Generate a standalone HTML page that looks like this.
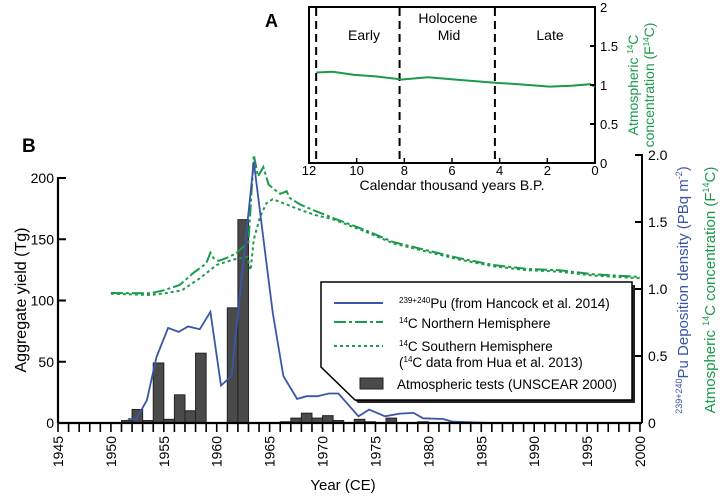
<!DOCTYPE html>
<html><head><meta charset="utf-8"><style>
html,body{margin:0;padding:0;background:#fff}
svg{display:block;font-family:"Liberation Sans",Arial,sans-serif}
</style></head><body>
<svg id="chart" width="727" height="498" viewBox="0 0 727 498">
<g id="inset"></g>
<g id="main"></g>
</svg>
<script>
// ---- Panel B data ----
const barYears = [1951,1952,1953,1954,1955,1956,1957,1958,1961,1962,1966,1967,1968,1969,1970,1971,1973,1974,1976,1979];
const barYields = [2,11,2,49,3,23,10,57,94,166,1,4,8,4,6,2,3,1,4,1];
const puYears = [1951.6,1952.4,1953.4,1954.3,1955.4,1956.4,1957.3,1958.4,1959.4,1960.4,1961.4,1963.5,1964.7,1965.3,1966.3,1967.6,1968.5,1969.5,1970.6,1971.5,1973.4,1974.4,1975.9,1977.3,1978.6,1979.5,1981.4,1982.3,1986];
const puValues = [0.03,0.03,0.17,0.49,0.71,0.68,0.72,0.70,0.83,0.28,0.35,1.95,1.19,0.82,0.35,0.18,0.20,0.20,0.22,0.22,0.05,0.10,0.05,0.07,0.075,0.035,0.03,0.01,0];
const nhYears = [1950,1953.7,1955,1956.5,1957.8,1959,1959.4,1959.7,1960.2,1961.2,1961.9,1963,1963.5,1963.9,1964.4,1964.9,1965.5,1966,1966.6,1966.9,1967.9,1969.4,1971,1974,1976.7,1979.8,1982.9,1986.1,1989.3,1992.4,1995.6,2000];
const nhValues = [0.97,0.968,0.99,1.03,1.12,1.19,1.27,1.23,1.21,1.24,1.27,1.35,2.0,1.84,1.91,1.78,1.74,1.71,1.73,1.68,1.63,1.58,1.53,1.44,1.35,1.29,1.23,1.18,1.15,1.14,1.11,1.09];
const shYears = [1950,1953.7,1955.3,1956.7,1958.4,1960,1961.6,1962.9,1963.2,1963.5,1964.1,1964.7,1965.3,1966.3,1967.9,1969.4,1971,1974,1976.7,1979.8,1982.9,1986.1,1989.3,1992.4,1995.6,2000];
const shValues = [0.965,0.955,0.97,0.99,1.08,1.18,1.22,1.24,1.14,1.37,1.54,1.64,1.67,1.64,1.59,1.55,1.52,1.43,1.34,1.28,1.22,1.17,1.14,1.13,1.10,1.08];
const yieldTicks = [0,50,100,150,200];
const rightTicks = ["0","0.5","1.0","1.5","2.0"];
// ---- Panel A data ----
const insetKyr = [11.7,11.0,10.1,9.2,8.1,7.0,5.9,4.2,3.2,1.9,1.0,0.2,0];
const insetF14C = [1.16,1.17,1.13,1.11,1.07,1.10,1.07,1.03,1.01,0.98,0.99,1.01,0.98];
const insetXTicks = [12,10,8,6,4,2,0];
const insetYTicks = ["0","0.5","1","1.5","2"];

const NS='http://www.w3.org/2000/svg';
function mk(parent,tag,attrs,text){const e=document.createElementNS(NS,tag);for(const k in attrs)e.setAttribute(k,attrs[k]);if(text!==undefined)e.textContent=text;parent.appendChild(e);return e;}

// axes
const xS=y=>58+(y-1945)*(582/55);
const yL=v=>423-v*1.225;
const yR=v=>423-v*134;
const main=document.getElementById('main');

// bars
barYears.forEach((yr,i)=>{
  const r=mk(main,'rect',{x:xS(yr),y:yL(barYields[i]),width:xS(yr+1)-xS(yr),height:423-yL(barYields[i]),fill:'#4a4a4a',stroke:'#222','stroke-width':1});
  
  
});
function line(xs,vs,attrs,name){
  const d=xs.map((x,i)=>(i?'L':'M')+xS(x).toFixed(1)+','+yR(vs[i]).toFixed(1)).join('');
  const p=mk(main,'path',Object.assign({d:d,fill:'none'},attrs));
  
  
}
line(shYears,shValues,{stroke:'#1a9a4a','stroke-width':2,'stroke-dasharray':'3,3'},'sh-14c-line');
line(nhYears,nhValues,{stroke:'#1a9a4a','stroke-width':2,'stroke-dasharray':'12,3,3,3'},'nh-14c-line');
line(puYears,puValues,{stroke:'#3a56a6','stroke-width':1.8},'pu-line');

// x axis
const xa=mk(main,'g',{});


mk(xa,'line',{x1:58,y1:423,x2:642,y2:423,stroke:'#000','stroke-width':2.2});
for(let y=1945;y<=2000;y++){mk(xa,'line',{x1:xS(y),y1:423,x2:xS(y),y2:432,stroke:'#000','stroke-width':1.6});}
for(let y=1945;y<=2000;y+=5){
  const t=mk(xa,'text',{x:0,y:0,transform:`translate(${xS(y)+5},436) rotate(-90)`,'text-anchor':'end','font-size':14},String(y));
  
  
}
const xt=mk(main,'text',{x:343,y:490,'font-size':15,'text-anchor':'middle'},'Year (CE)');


// left axis
const la=mk(main,'g',{});


mk(la,'line',{x1:58,y1:177,x2:58,y2:423,stroke:'#000','stroke-width':2.2});
yieldTicks.forEach(v=>{
  mk(la,'line',{x1:58,y1:yL(v),x2:66,y2:yL(v),stroke:'#000','stroke-width':2});
  mk(la,'text',{x:54,y:yL(v)+5,'text-anchor':'end','font-size':14},String(v));
});
const lt=mk(main,'text',{x:0,y:0,transform:'translate(26,300) rotate(-90)','text-anchor':'middle','font-size':16},'Aggregate yield (Tg)');


// right axis
const ra=mk(main,'g',{});


mk(ra,'line',{x1:642,y1:154,x2:642,y2:423,stroke:'#000','stroke-width':2});
rightTicks.forEach((s,i)=>{
  const v=i*0.5;
  mk(ra,'line',{x1:635,y1:yR(v),x2:642,y2:yR(v),stroke:'#000','stroke-width':2});
  mk(ra,'text',{x:648,y:yR(v)+5,'font-size':14},s);
});
const rt1=mk(main,'text',{x:0,y:0,transform:'translate(688,290) rotate(-90)','text-anchor':'middle','font-size':15,fill:'#3a56a6'});
rt1.innerHTML='<tspan font-size="9" dy="-6">239+240</tspan><tspan dy="6">Pu Deposition density (PBq m</tspan><tspan font-size="9" dy="-6">-2</tspan><tspan dy="6">)</tspan>';

const rt2=mk(main,'text',{x:0,y:0,transform:'translate(715,290) rotate(-90)','text-anchor':'middle','font-size':15,fill:'#1a9a4a'});
rt2.innerHTML='Atmospheric <tspan font-size="9" dy="-6">14</tspan><tspan dy="6">C concentration (F</tspan><tspan font-size="9" dy="-6">14</tspan><tspan dy="6">C)</tspan>';


const lb=mk(main,'text',{x:22,y:152,'font-size':19,'font-weight':'bold'},'B');


// legend
const lg=mk(main,'g',{});


mk(lg,'polygon',{points:'324,285 635,285 635,403 358,403 324,370',fill:'#222'});
mk(lg,'polygon',{points:'321,282 632,282 632,400 355,400 321,367',fill:'#fff',stroke:'#000','stroke-width':1.5});
mk(lg,'line',{x1:334,y1:303,x2:383,y2:303,stroke:'#3a56a6','stroke-width':2});
mk(lg,'line',{x1:334,y1:322,x2:383,y2:322,stroke:'#1a9a4a','stroke-width':2,'stroke-dasharray':'12,3,3,3'});
mk(lg,'line',{x1:334,y1:346,x2:383,y2:346,stroke:'#1a9a4a','stroke-width':2,'stroke-dasharray':'3,3'});
mk(lg,'rect',{x:360,y:378,width:23,height:11,fill:'#4a4a4a',stroke:'#222'});
const l1=mk(lg,'text',{x:399,y:308,'font-size':13.5});
l1.innerHTML='<tspan font-size="8" dy="-5">239+240</tspan><tspan dy="5">Pu (from Hancock et al. 2014)</tspan>';
const l2=mk(lg,'text',{x:399,y:328,'font-size':13.5});
l2.innerHTML='<tspan font-size="8" dy="-5">14</tspan><tspan dy="5">C Northern Hemisphere</tspan>';
const l3=mk(lg,'text',{x:399,y:351,'font-size':13.5});
l3.innerHTML='<tspan font-size="8" dy="-5">14</tspan><tspan dy="5">C Southern Hemisphere</tspan>';
const l4=mk(lg,'text',{x:399,y:367,'font-size':13.5});
l4.innerHTML='(<tspan font-size="8" dy="-5">14</tspan><tspan dy="5">C data from Hua et al. 2013)</tspan>';
mk(lg,'text',{x:397,y:389,'font-size':13.5},'Atmospheric tests (UNSCEAR 2000)');

// ---- Inset ----
const ins=document.getElementById('inset');
const ix=k=>595-k*(286/12);
const iy=v=>163-v*78;
mk(ins,'rect',{x:309,y:7,width:286,height:156,fill:'#fff',stroke:'#000','stroke-width':2});
[11.7,8.2,4.2].forEach(k=>{
  const l=mk(ins,'line',{x1:ix(k),y1:8,x2:ix(k),y2:162,stroke:'#000','stroke-width':2,'stroke-dasharray':'8,5'});
  
  
});
mk(ins,'text',{x:364,y:40,'font-size':14,'text-anchor':'middle'},'Early');
mk(ins,'text',{x:448,y:23,'font-size':14,'text-anchor':'middle'},'Holocene');
mk(ins,'text',{x:449,y:40,'font-size':14,'text-anchor':'middle'},'Mid');
mk(ins,'text',{x:550,y:40,'font-size':14,'text-anchor':'middle'},'Late');
const ip=mk(ins,'path',{d:insetKyr.map((k,i)=>(i?'L':'M')+ix(k).toFixed(1)+','+iy(insetF14C[i]).toFixed(1)).join(''),fill:'none',stroke:'#1a9a4a','stroke-width':2});


insetXTicks.forEach(k=>{
  mk(ins,'line',{x1:ix(k),y1:158,x2:ix(k),y2:163,stroke:'#000','stroke-width':1.5});
  mk(ins,'text',{x:ix(k),y:175,'font-size':13,'text-anchor':'middle'},String(k));
});
insetYTicks.forEach((s,i)=>{
  const v=i*0.5;
  mk(ins,'line',{x1:590,y1:iy(v),x2:595,y2:iy(v),stroke:'#000','stroke-width':2});
  mk(ins,'text',{x:600,y:iy(v)+5,'font-size':13},s);
});
mk(ins,'text',{x:452,y:190,'font-size':14,'text-anchor':'middle'},'Calendar thousand years B.P.');
const it1=mk(ins,'text',{x:0,y:0,transform:'translate(638,85) rotate(-90)','text-anchor':'middle','font-size':14,fill:'#1a9a4a'});
it1.innerHTML='Atmospheric <tspan font-size="8" dy="-5">14</tspan><tspan dy="5">C</tspan>';
const it2=mk(ins,'text',{x:0,y:0,transform:'translate(654,85) rotate(-90)','text-anchor':'middle','font-size':14,fill:'#1a9a4a'});
it2.innerHTML='concentration (F<tspan font-size="8" dy="-5">14</tspan><tspan dy="5">C)</tspan>';
mk(ins,'text',{x:265,y:27,'font-size':18,'font-weight':'bold'},'A');
</script>
</body></html>
